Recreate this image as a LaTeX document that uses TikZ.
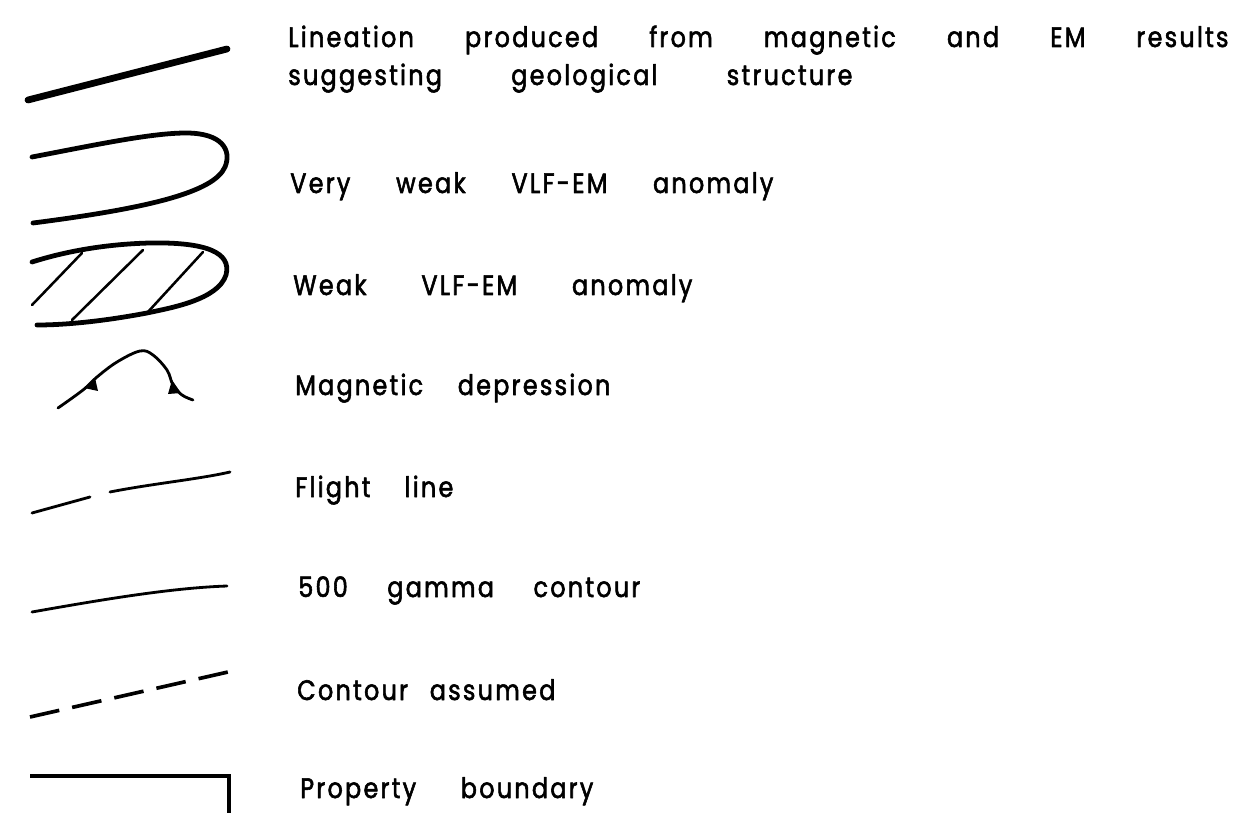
\documentclass[tikz,border=0pt]{standalone}
\usepackage{fontspec}
\setmainfont{Poppins}[LetterSpace=8,FakeStretch=0.85,FakeBold=2]
\newcommand{\spreadline}[2]{\makebox[#1][s]{#2}}
\begin{document}
\begin{tikzpicture}[x=0.025cm,y=-0.025cm,line cap=round,line join=round,
    legend text/.style={anchor=base west,inner sep=0pt,font=\fontsize{20}{23}\selectfont},
    heavy line/.style={line width=4.8pt},
    outline/.style={line width=3.4pt},
    hatch line/.style={line width=1.8pt},
    fine line/.style={line width=2pt}]
\useasboundingbox (0,0) rectangle (1237,813);
                \draw[heavy line] (28,100) -- (227,49);
                \draw[outline] (32,157) .. controls (90,146) and (150,133) .. (186,133) .. controls (222,133) and (232,150) .. (225,167) .. controls (214,192) and (150,208) .. (33,223);
                \draw[outline] (32,262) .. controls (70,250) and (110,244) .. (150,243) .. controls (205,242) and (232,252) .. (226,275) .. controls (218,300) and (170,308) .. (147,313) .. controls (110,320) and (70,325) .. (37,325);
                \draw[hatch line] (32,305) -- (82,253);
                \draw[hatch line] (72,320) -- (143,250);
                \draw[hatch line] (147,313) -- (203,252);
                \draw[fine line] plot[smooth,tension=0.6] coordinates {(58,408) (83,390) (97,377) (117,362) (140,351) (153,355) (167,370) (173,385) (182,395) (193,400)};
                \fill (84,388) -- (95,378) -- (98,391) -- cycle;
                \fill (172,380) -- (168,394) -- (181,393) -- cycle;
                \draw[fine line] (32,513) -- (90,497);
                \draw[fine line] (110,492) .. controls (150,484) and (200,479) .. (230,472);
                \draw[fine line] (32,612) .. controls (100,600) and (170,588) .. (227,586);
                \draw[line width=2.6pt,line cap=butt,dash pattern=on 0.75cm off 0.33cm] (30,717) -- (228,672);
                \draw[outline,line cap=butt,line join=miter] (30,776) -- (229,776) -- (229,813);

                \node[legend text] at (288,47) (lineation) {\spreadline{23.5cm}{Lineation produced from magnetic and EM results}};
                \node[legend text] at (288,85) (lineationb) {\spreadline{14.1cm}{suggesting geological structure}};
                \node[legend text] at (290,193) (veryweak) {\spreadline{12.075cm}{Very weak VLF-EM anomaly}};
                \node[legend text] at (293,295) (weak) {\spreadline{9.975cm}{Weak VLF-EM anomaly}};
                \node[legend text] at (295,395) (magdep) {\spreadline{7.875cm}{Magnetic depression}};
                \node[legend text] at (295,497) (flight) {\spreadline{3.95cm}{Flight line}};
                \node[legend text] at (298,597) (gamma) {\spreadline{8.55cm}{500 gamma contour}};
                \node[legend text] at (297,700) (assumed) {\spreadline{6.45cm}{Contour assumed}};
                \node[legend text] at (300,798) (property) {\spreadline{7.325cm}{Property boundary}};
\end{tikzpicture}
\end{document}
